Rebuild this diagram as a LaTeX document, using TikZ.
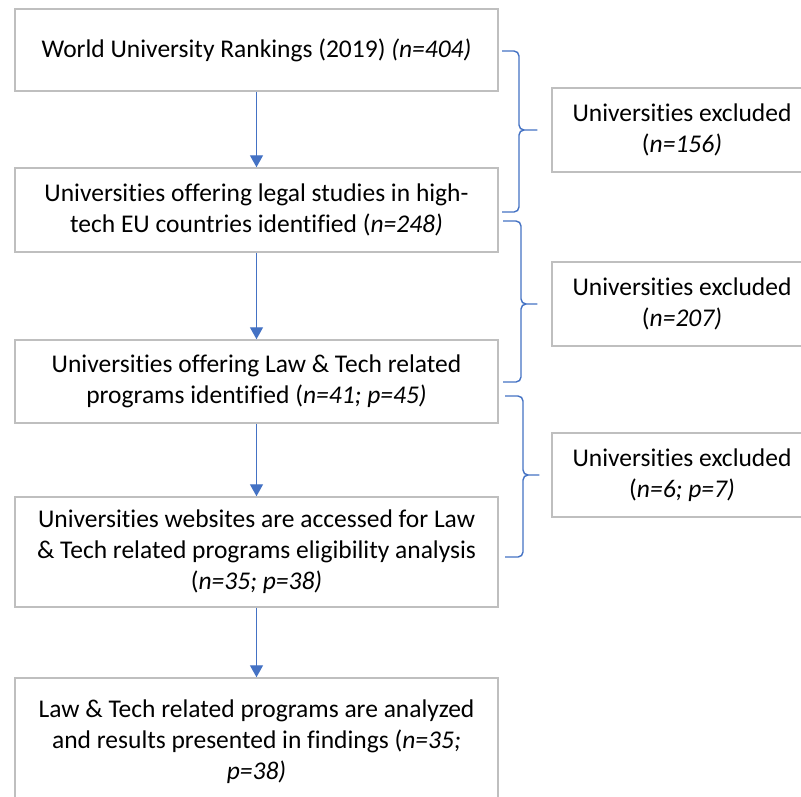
\documentclass[tikz,border=0pt]{standalone}
\usepackage{fontspec}
\setmainfont{Carlito}[Ligatures={TeX,NoCommon}]
\usetikzlibrary{arrows.meta}
\definecolor{boxgray}{RGB}{191,191,191}
\definecolor{accblue}{RGB}{68,114,196}
\begin{document}
\begin{tikzpicture}[x=1pt,y=-1pt,
  box/.style={draw=boxgray,line width=1.5pt,align=center,inner sep=0pt,fill=white,
    font=\fontsize{25.5}{31}\selectfont},
  lbox/.style={box,minimum width=483pt},
  rbox/.style={box,minimum width=260pt,minimum height=84pt},
  arr/.style={draw=accblue,line width=1.4pt,-{Triangle[width=13pt,length=12pt]}},
  brace/.style={draw=accblue,line width=1.4pt,rounded corners=5pt}]
\useasboundingbox (0,0) rectangle (801,796);
\clip (0,0) rectangle (801,796);
\fill[white] (0,0) rectangle (801,796);
\node[lbox,minimum height=82pt] (B1) at (256.5,50) {World University Rankings (2019) \textit{(n=404)}};
\node[lbox,minimum height=84pt] (B2) at (256.5,210) {Universities offering legal studies in high-\\tech EU countries identified (\textit{n=248)}};
\node[lbox,minimum height=83pt] (B3) at (256.5,381.5) {Universities offering Law \& Tech related\\programs identified (\textit{n=41; p=45)}};
\node[lbox,minimum height=110pt] (B4) at (256.5,552) {Universities websites are accessed for Law\\\& Tech related programs eligibility analysis\\(\textit{n=35; p=38)}};
\node[lbox,minimum height=128pt] (B5) at (256.5,742) {Law \& Tech related programs are analyzed\\and results presented in findings (\textit{n=35;}\\\textit{p=38)}};
\node[rbox] (R1) at (682,130) {Universities excluded\\(\textit{n=156)}};
\node[rbox] (R2) at (682,304) {Universities excluded\\(\textit{n=207)}};
\node[rbox] (R3) at (682,475) {Universities excluded\\(\textit{n=6; p=7)}};
\draw[arr] (B1.south) -- (B2.north);
\draw[arr] (B2.south) -- (B3.north);
\draw[arr] (B3.south) -- (B4.north);
\draw[arr] (B4.south) -- (B5.north);
\coordinate (t1) at ([xshift=-14pt]R1.west);
\coordinate (t2) at ([xshift=-14pt]R2.west);
\coordinate (t3) at ([xshift=-12pt]R3.west);
\draw[brace] (502,51) -- (519,51) -- (t1 -| 519,0) -- (t1) (502,212) -- (519,212) -- (t1 -| 519,0) -- (t1);
\draw[brace] (503,221) -- (521,221) -- (t2 -| 521,0) -- (t2) (503,382) -- (521,382) -- (t2 -| 521,0) -- (t2);
\draw[brace] (505,396) -- (523,396) -- (t3 -| 523,0) -- (t3) (505,557) -- (523,557) -- (t3 -| 523,0) -- (t3);
\end{tikzpicture}
\end{document}
